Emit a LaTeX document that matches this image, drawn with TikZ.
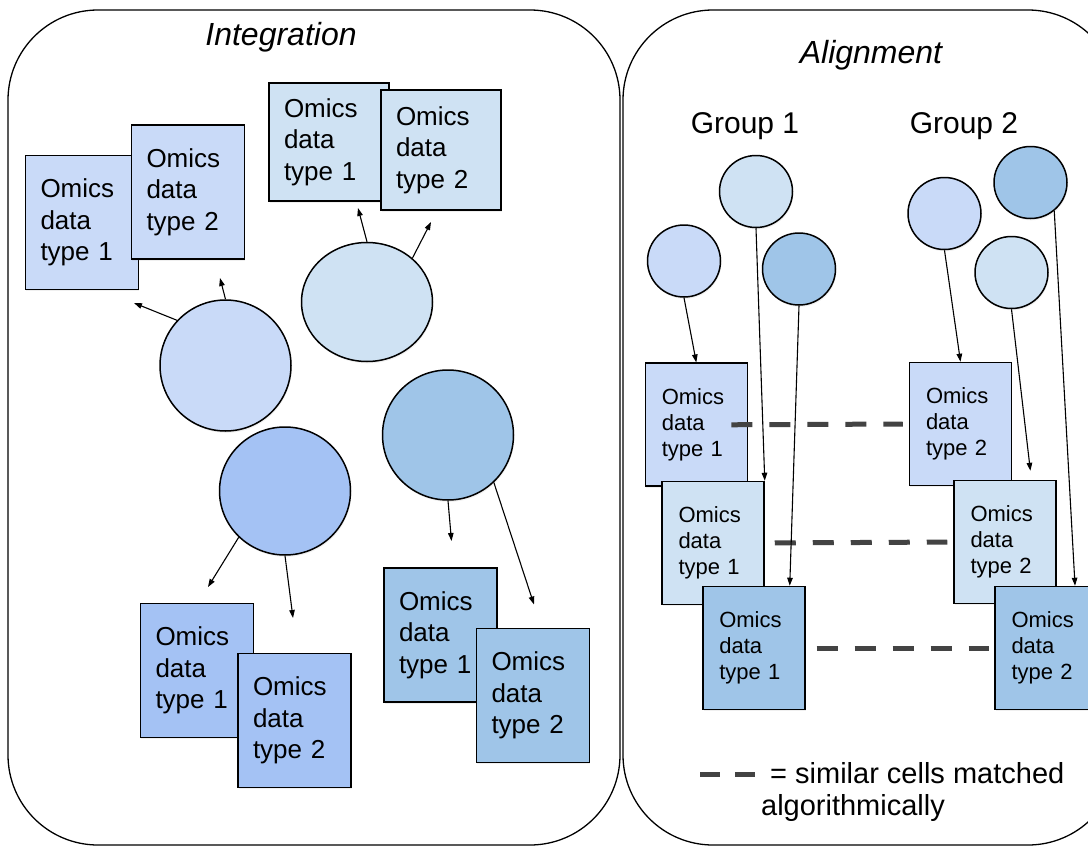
\documentclass[tikz,border=0pt]{standalone}
\usepackage{fontspec}
\setmainfont{Liberation Sans}
\usetikzlibrary{arrows.meta,shapes.geometric,shadows}

\definecolor{cornA}{HTML}{C9DAF8}
\definecolor{blueA}{HTML}{CFE2F3}
\definecolor{cornB}{HTML}{A4C2F4}
\definecolor{blueB}{HTML}{9FC5E8}
\definecolor{dashgray}{HTML}{434343}

\newcommand{\omicsbig}{\fontsize{26}{31.5}\selectfont}
\newcommand{\omicssmall}{\fontsize{22}{26}\selectfont}

\tikzset{
  panel/.style={draw=black, line width=1.3pt, rounded corners=90pt},
  softshadow/.style={drop shadow={opacity=0.12, shadow xshift=0.8pt, shadow yshift=-1.8pt}},
  cell/.style={ellipse, draw=black, line width=1.5pt, inner sep=0pt, softshadow},
  bigcell/.style={cell, minimum width=131pt, minimum height=#1},
  smallcell/.style={cell, minimum width=73pt, minimum height=72pt},
  omics/.style={rectangle, draw=black, line width=1.5pt, align=left, softshadow},
  bigomics/.style={omics, font=\omicsbig, text width=83pt, inner xsep=15pt, minimum height=134pt},
  smallomics/.style={omics, font=\omicssmall, text width=69pt, inner xsep=16.5pt, minimum height=123pt},
  arr/.style={-{Triangle[length=8pt,width=5.5pt]}, line width=1.1pt},
  matchline/.style={dashgray, line width=5pt, dash pattern=on 21pt off 17pt},
}

\begin{document}
\begin{tikzpicture}[x=1pt,y=-1pt]
  \useasboundingbox (0,0) rectangle (1088,846);
  \fill[white] (0,0) rectangle (1088,846);

  \draw[panel] (8,10) rectangle (620,845);
  \draw[panel] (623,10) rectangle (1118,845);

  \node[font=\fontsize{32}{38}\selectfont\itshape, anchor=base] (integration) at (281,45) {Integration};
  \node[font=\fontsize{32}{38}\selectfont\itshape, anchor=base] (alignment) at (871,63) {Alignment};
  \node[font=\fontsize{30}{36}\selectfont, anchor=base] (group1) at (745,133) {Group 1};
  \node[font=\fontsize{30}{36}\selectfont, anchor=base] (group2) at (964,133) {Group 2};

  \node[bigomics, fill=cornA] (b1) at (82,222.5) {Omics\\data\\type 1};
  \node[bigomics, fill=cornA] (b2) at (188,192) {Omics\\data\\type 2};
  \node[bigomics, fill=blueA, text width=90pt, minimum height=118pt] (b3) at (329,142) {Omics\\data\\type 1};
  \node[bigomics, fill=blueA, text width=90pt, minimum height=120pt] (b4) at (441,150) {Omics\\data\\type 2};
  \node[bigomics, fill=cornB] (b5) at (197,670.5) {Omics\\data\\type 1};
  \node[bigomics, fill=cornB] (b6) at (294.5,720.5) {Omics\\data\\type 2};
  \node[bigomics, fill=blueB] (b7) at (440.5,635) {Omics\\data\\type 1};
  \node[bigomics, fill=blueB] (b8) at (533,695.5) {Omics\\data\\type 2};

  \node[bigcell=131pt, fill=cornA] (cA) at (225.5,365.5) {};
  \node[bigcell=119pt, fill=blueA] (cB) at (367,302) {};
  \node[bigcell=128pt, fill=cornB] (cC) at (285,491) {};
  \node[bigcell=130pt, fill=blueB] (cD) at (448,435) {};

  \coordinate (tA1) at (134,303);
  \coordinate (tA2) at (220,278);
  \coordinate (tB1) at (358,208);
  \coordinate (tB2) at (431,222);
  \coordinate (tC1) at (208,587);
  \coordinate (tC2) at (293,618);
  \coordinate (tD1) at (451.5,541);
  \coordinate (tD2) at (534,604.5);
  \draw[arr] (cA.137) -- (tA1);
  \draw[arr] (cA.north) -- (tA2);
  \draw[arr] (cB.north) -- (tB1);
  \draw[arr] (cB.44) -- (tB2);
  \draw[arr] (cC.225) -- (tC1);
  \draw[arr] (cC.south) -- (tC2);
  \draw[arr] (cD.south) -- (tD1);
  \draw[arr] (cD.314) -- (tD2);

  \node[smallcell, fill=cornA] (g1a) at (684,261) {};
  \node[smallcell, fill=blueA] (g1b) at (756,191.5) {};
  \node[smallcell, fill=blueB] (g1c) at (799,269) {};
  \node[smallcell, fill=cornA] (g2a) at (944.5,213.5) {};
  \node[smallcell, fill=blueB] (g2b) at (1030.5,182.5) {};
  \node[smallcell, fill=blueA] (g2c) at (1011.5,272.5) {};

  \node[smallomics, fill=cornA] (r1) at (696.3,424.7) {Omics\\data\\type 1};
  \node[smallomics, fill=blueA] (r2) at (713,543) {Omics\\data\\type 1};
  \node[smallomics, fill=blueB] (r3) at (753.8,648) {Omics\\data\\type 1};
  \node[smallomics, fill=cornA] (s1) at (960.5,424) {Omics\\data\\type 2};
  \node[smallomics, fill=blueA] (s2) at (1005,542) {Omics\\data\\type 2};
  \node[smallomics, fill=blueB] (s3) at (1046,648) {Omics\\data\\type 2};

  \draw[matchline, shorten <=-16.7pt, shorten >=6pt] (r1.east) -- (s1.west);
  \draw[matchline, shorten <=10pt, shorten >=6pt] (r2.east) -- (s2.west);
  \draw[matchline, shorten <=11pt, shorten >=5pt] (r3.east) -- (s3.west);

  \draw[arr] (g1a.south) -- (r1.north);
  \draw[arr] (g1b.south) -- (r2.north east);
  \draw[arr] (g1c.south) -- (r3.60);
  \draw[arr] (g2a.south) -- (s1.north);
  \draw[arr, shorten >=9pt] (g2c.south) -- (s2.67);
  \draw[arr] (g2b.-50) -- (s3.65);

  \coordinate (legdash) at (700,774);
  \draw[matchline, dash pattern=on 20pt off 15pt] (legdash) -- ++(55,0);
  \node[font=\fontsize{29}{35}\selectfont, anchor=base west, inner sep=0pt] (legend1) at (770,783) {= similar cells matched};
  \node[font=\fontsize{29}{35}\selectfont, anchor=base, inner sep=0pt] (legend2) at (853,815) {algorithmically};
\end{tikzpicture}
\end{document}
